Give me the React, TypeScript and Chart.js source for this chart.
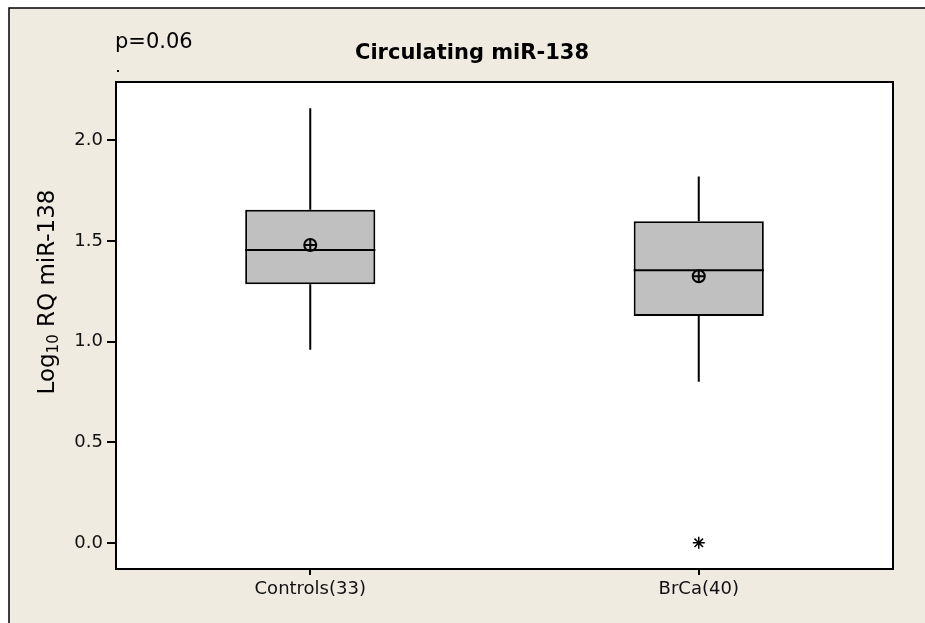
import React, { useEffect, useRef } from "react";
import { Chart, registerables } from "chart.js";

Chart.register(...registerables);

const categories = ["Controls(33)", "BrCa(40)"];
const whiskerLow = [0.96, 0.8];
const q1 = [1.285, 1.127];
const median = [1.455, 1.355];
const q3 = [1.655, 1.598];
const whiskerHigh = [2.16, 1.82];
const means = [1.48, 1.325];
const outliers = [null, 0.0];
const yMin = -0.13;
const yMax = 2.29;
const titleText = "Circulating miR-138";
const pText = "p=0.06";

const FONT = "'DejaVu Sans', sans-serif";

const boxPlugin = {
  id: "boxExtras",
  beforeDraw(chart: any) {
    const { ctx, width, height, chartArea } = chart;
    ctx.save();
    ctx.fillStyle = "#ffffff";
    ctx.fillRect(0, 0, width, height);
    ctx.fillStyle = "#efebe0";
    ctx.fillRect(9, 8, width - 9, height - 8);
    ctx.strokeStyle = "#000";
    ctx.lineWidth = 1.5;
    ctx.beginPath();
    ctx.moveTo(9, height);
    ctx.lineTo(9, 8);
    ctx.lineTo(width, 8);
    ctx.stroke();
    ctx.fillStyle = "#ffffff";
    ctx.fillRect(chartArea.left, chartArea.top, chartArea.right - chartArea.left, chartArea.bottom - chartArea.top);
    // title
    ctx.fillStyle = "#000";
    ctx.font = `bold 21px ${FONT}`;
    ctx.textAlign = "center";
    ctx.textBaseline = "middle";
    ctx.fillText(titleText, 472, 54);
    ctx.font = `21px ${FONT}`;
    ctx.textAlign = "left";
    ctx.fillText(pText, 115, 43);
    ctx.fillRect(117, 70, 2, 2);
    // y title
    ctx.save();
    ctx.translate(46, 292);
    ctx.rotate(-Math.PI / 2);
    const a = "Log";
    const sub = "10";
    const b = " RQ miR-138";
    ctx.font = `23px ${FONT}`;
    const wa = ctx.measureText(a).width;
    const wb = ctx.measureText(b).width;
    ctx.font = `15px ${FONT}`;
    const ws = ctx.measureText(sub).width;
    const total = wa + ws + wb;
    let x = -total / 2;
    ctx.textAlign = "left";
    ctx.textBaseline = "alphabetic";
    ctx.font = `23px ${FONT}`;
    ctx.fillText(a, x, 8);
    x += wa;
    ctx.font = `15px ${FONT}`;
    ctx.fillText(sub, x, 12);
    x += ws;
    ctx.font = `23px ${FONT}`;
    ctx.fillText(b, x, 8);
    ctx.restore();
    ctx.restore();
  },
  afterDatasetsDraw(chart: any) {
    const { ctx, chartArea } = chart;
    const xs = chart.scales.x;
    const ys = chart.scales.y;
    const meta = chart.getDatasetMeta(0);
    ctx.save();
    ctx.strokeStyle = "#000";
    ctx.lineWidth = 2;
    categories.forEach((_c, i) => {
      const cx = xs.getPixelForValue(i);
      const bw = meta.data[i].width;
      ctx.beginPath();
      ctx.moveTo(cx, ys.getPixelForValue(q3[i]));
      ctx.lineTo(cx, ys.getPixelForValue(whiskerHigh[i]));
      ctx.moveTo(cx, ys.getPixelForValue(q1[i]));
      ctx.lineTo(cx, ys.getPixelForValue(whiskerLow[i]));
      ctx.moveTo(cx - bw / 2, ys.getPixelForValue(median[i]));
      ctx.lineTo(cx + bw / 2, ys.getPixelForValue(median[i]));
      ctx.stroke();
      const my = ys.getPixelForValue(means[i]);
      ctx.beginPath();
      ctx.arc(cx, my, 6, 0, Math.PI * 2);
      ctx.moveTo(cx - 6, my);
      ctx.lineTo(cx + 6, my);
      ctx.moveTo(cx, my - 6);
      ctx.lineTo(cx, my + 6);
      ctx.stroke();
    });
    ctx.lineWidth = 2;
    ctx.strokeRect(chartArea.left, chartArea.top, chartArea.right - chartArea.left, chartArea.bottom - chartArea.top);
    ctx.restore();
  },
};

export default function App() {
  const ref = useRef<HTMLCanvasElement | null>(null);
  useEffect(() => {
    if (!ref.current) return;
    const chart = new Chart(ref.current, {
      type: "bar",
      data: {
        labels: categories,
        datasets: [
          {
            type: "bar",
            data: q1.map((v, i) => [v, q3[i]]) as any,
            backgroundColor: "#c0c0c0",
            borderColor: "#000",
            borderWidth: 2,
            borderSkipped: false,
            barPercentage: 0.335,
            categoryPercentage: 1,
          } as any,
          {
            type: "line",
            data: outliers as any,
            showLine: false,
            pointStyle: "star",
            pointRadius: 6,
            pointBorderColor: "#000",
            pointBackgroundColor: "#000",
            pointBorderWidth: 1.5,
          } as any,
        ],
      },
      options: {
        animation: false,
        responsive: false,
        maintainAspectRatio: false,
        layout: { padding: { top: 82, right: 32, left: 0, bottom: 0 } },
        plugins: { legend: { display: false }, tooltip: { enabled: false }, title: { display: false } },
        scales: {
          x: {
            type: "category",
            offset: true,
            grid: { display: true, offset: false, drawOnChartArea: false, drawTicks: true, tickLength: 6, color: "#000", lineWidth: 2 },
            border: { display: false },
            ticks: { color: "#111", font: { family: FONT, size: 18 }, padding: 4 },
            afterFit: (s: any) => {
              s.height = 54;
            },
          },
          y: {
            type: "linear",
            min: yMin,
            max: yMax,
            grid: { display: true, drawOnChartArea: false, drawTicks: true, tickLength: 9, color: "#000", lineWidth: 2 },
            border: { display: false },
            ticks: {
              stepSize: 0.5,
              includeBounds: false,
              color: "#111",
              font: { family: FONT, size: 18 },
              padding: 4,
              callback: (v: any) => Number(v).toFixed(1),
            },
            afterFit: (s: any) => {
              s.width = 116;
            },
          },
        },
      } as any,
      plugins: [boxPlugin],
    });
    return () => chart.destroy();
  }, []);
  return (
    <div style={{ position: "fixed", left: 0, top: 0, width: 925, height: 623 }}>
      <canvas ref={ref} width={925} height={623} style={{ display: "block", width: 925, height: 623 }} />
    </div>
  );
}
